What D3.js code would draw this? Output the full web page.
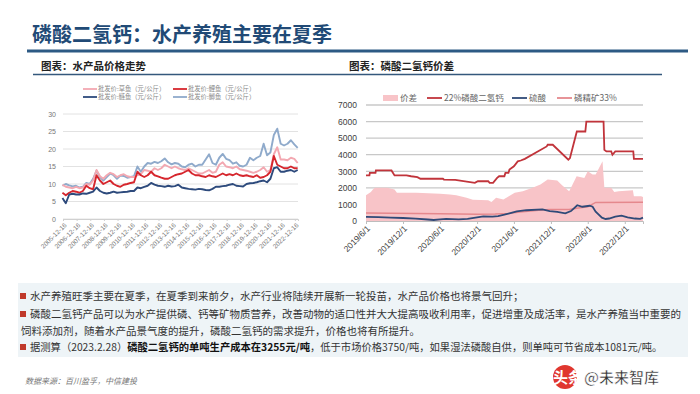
<!DOCTYPE html>
<html>
<head>
<meta charset="utf-8">
<script src="https://cdn.jsdelivr.net/npm/d3@7"></script>
<style>
  body { margin: 0; background: #fff; }
  svg { display: block; font-family: "Noto Sans CJK SC", "Liberation Sans", sans-serif; }
</style>
</head>
<body>
<svg id="chart" width="700" height="394"></svg>
<script>
// ---- left chart: fish wholesale prices (quarterly readings) ----
var fishDates = ["2005-12",
  "2006-03","2006-06","2006-09","2006-12","2007-03","2007-06","2007-09","2007-12",
  "2008-03","2008-06","2008-09","2008-12","2009-03","2009-06","2009-09","2009-12",
  "2010-03","2010-06","2010-09","2010-12","2011-03","2011-06","2011-09","2011-12",
  "2012-03","2012-06","2012-09","2012-12","2013-03","2013-06","2013-09","2013-12",
  "2014-03","2014-06","2014-09","2014-12","2015-03","2015-06","2015-09","2015-12",
  "2016-03","2016-06","2016-09","2016-12","2017-03","2017-06","2017-09","2017-12",
  "2018-03","2018-06","2018-09","2018-12","2019-03","2019-06","2019-09","2019-12",
  "2020-03","2020-06","2020-09","2020-12","2021-03","2021-06","2021-09","2021-12",
  "2022-03","2022-06","2022-09","2022-12","2023-03"];
var fishTicks = ["2005-12-16","2006-12-16","2007-12-16","2008-12-16","2009-12-16","2010-12-16",
  "2011-12-16","2012-12-16","2013-12-16","2014-12-16","2015-12-16","2016-12-16","2017-12-16",
  "2018-12-16","2019-12-16","2020-12-16","2021-12-16","2022-12-16"];
var crucian = [9.5,
  10.0,9.6,9.3,9.5, 9.0,9.2,10.3,10.0, 11.5,13.8,12.0,11.0, 12.0,13.0,12.5,11.5,
  12.4,12.3,11.8,12.0, 12.2,15.0,13.5,15.0, 16.0,15.8,16.3,16.0, 16.5,17.3,16.2,15.6,
  16.0,15.8,15.0,14.8, 15.5,15.8,15.0,15.5, 15.5,17.0,18.5,16.0, 15.5,17.5,18.6,17.2,
  16.8,15.8,16.2,15.2, 15.0,15.5,17.5,16.8, 17.5,18.0,21.5,18.2, 19.0,24.0,25.8,21.5,
  21.0,21.5,22.5,21.3, 20.3];
var grass = [9.8,
  9.2,9.0,8.8,9.2, 8.8,9.0,10.0,9.8, 11.0,14.0,12.2,11.5, 12.5,13.2,12.8,12.0,
  12.5,12.8,12.2,12.0, 12.0,12.5,12.8,14.0, 13.8,13.5,14.5,14.0, 14.5,15.5,15.0,14.5,
  15.0,14.5,14.2,14.0, 14.5,14.0,13.5,13.0, 13.0,13.5,14.0,13.2, 13.5,15.5,16.2,15.0,
  14.8,14.5,15.0,14.2, 14.0,13.8,13.5,13.2, 13.5,14.0,14.8,13.5, 14.0,18.5,20.5,17.0,
  17.0,16.8,17.5,17.2, 16.0];
var carp = [7.5,
  6.8,7.5,8.0,7.8, 7.5,8.0,9.5,8.8, 8.5,12.5,11.0,10.0, 10.5,11.0,10.0,9.5,
  9.2,9.8,10.0,10.3, 10.5,13.5,12.5,12.0, 12.5,13.5,12.5,12.2, 11.8,11.5,11.5,12.0,
  12.5,12.8,13.0,13.5, 14.0,13.0,12.5,12.5, 12.2,12.0,12.5,12.2, 12.0,12.5,13.0,12.5,
  12.8,12.5,13.0,12.5, 12.3,12.5,12.2,12.0, 12.5,11.8,12.0,12.5, 13.5,18.0,15.5,15.0,
  14.5,14.5,15.0,14.5, 14.5];
var silver = [6.0,
  4.5,7.0,7.2,7.0, 7.0,7.3,7.2,7.5, 7.8,9.0,8.0,7.5, 7.3,7.5,7.8,7.5,
  7.6,7.7,7.8,8.0, 8.0,9.0,8.8,9.2, 9.5,10.3,9.8,9.5, 9.4,9.2,9.5,9.3,
  9.4,9.8,9.0,8.8, 8.6,8.5,8.4,8.6, 8.5,8.3,8.2,8.6, 9.2,9.2,9.4,9.5,
  9.8,10.0,9.5,9.4, 9.3,10.0,10.2,10.3, 10.5,10.8,11.0,10.5, 11.5,14.5,14.8,13.5,
  13.5,13.8,14.0,13.5, 14.0];
var fishNames = ["批发价:草鱼（元/公斤）","批发价:鲤鱼（元/公斤）","批发价:鲢鱼（元/公斤）","批发价:鲫鱼（元/公斤）"];

// ---- right chart: MCP price spread ----
var spreadDates = ["2019-06-01","2019-06-25","2019-07-05","2019-07-15","2019-09-15","2019-10-20","2019-11-01",
  "2020-02-05","2020-06-01","2020-07-20","2020-08-20","2020-10-10","2020-11-10","2021-01-25","2021-02-10",
  "2021-03-05","2021-04-10","2021-05-01","2021-06-05","2021-07-15","2021-09-01","2021-10-10","2021-11-15",
  "2022-01-01","2022-01-25","2022-03-01","2022-03-10","2022-04-07","2022-05-15","2022-06-01","2022-06-25",
  "2022-07-10","2022-08-13","2022-08-22","2022-09-25","2022-10-10","2022-11-01","2023-01-10","2023-01-15",
  "2023-02-20","2023-03-01"];
var spreadValues = [1550,1750,1900,2000,2000,1900,1700,
  1700,1650,1600,1550,1400,1280,1250,1150,
  1400,1300,1450,1700,1800,2000,2200,2500,
  2450,2150,1800,2000,2700,2600,3000,2800,
  2800,3600,2000,2000,1750,1800,1850,1500,
  1500,1450];
var mcpDates = ["2019-06-01","2019-06-18","2019-06-20","2019-07-18","2019-07-20","2019-10-05","2019-10-20",
  "2019-12-18","2020-01-10","2020-02-10","2020-02-25","2020-06-15","2020-06-20","2020-08-15","2020-11-20",
  "2020-12-05","2021-01-25","2021-02-01","2021-02-18","2021-03-10","2021-03-20","2021-04-15","2021-04-20",
  "2021-05-05","2021-05-10","2021-06-01","2021-06-20","2021-07-05","2021-07-25","2021-11-10","2021-11-15",
  "2021-12-10","2022-02-25","2022-03-05","2022-04-08","2022-05-20","2022-05-25","2022-08-18","2022-08-22",
  "2022-09-01","2022-09-25","2022-10-01","2022-10-15","2023-01-12","2023-01-15","2023-03-01"];
var mcpValues = [2750,2750,2900,2900,3050,3050,2750,
  2750,2700,2650,2550,2550,2500,2480,2300,
  2400,2400,2300,2300,2600,2700,2700,2900,
  2900,3100,3300,3600,3650,3750,4500,4600,
  4600,3700,3800,5400,5400,6000,6000,4300,
  4200,4200,4000,4200,4200,3750,3750];
var acidDates = ["2019-06-01","2019-08-01","2019-10-01","2019-12-01","2020-02-01","2020-04-01","2020-05-01",
  "2020-06-01","2020-07-01","2020-09-01","2020-10-15","2020-12-01","2021-01-01","2021-02-15","2021-03-15",
  "2021-04-15","2021-05-10","2021-06-15","2021-08-01","2021-10-20","2021-11-25","2022-01-01","2022-02-10",
  "2022-03-10","2022-04-10","2022-05-05","2022-06-10","2022-06-25","2022-07-10","2022-08-10","2022-08-28",
  "2022-09-15","2022-10-15","2022-11-15","2022-12-15","2023-01-20","2023-02-15","2023-03-01"];
var acidValues = [250,230,200,180,140,90,60,
  100,130,100,130,220,280,270,300,
  380,460,580,650,700,600,550,460,
  600,950,860,920,860,560,200,120,
  150,260,320,220,150,130,200];
var rockDates = ["2019-06-01","2020-06-01","2020-12-01","2021-03-01","2021-05-10","2021-07-01","2021-10-01",
  "2021-11-25","2022-03-01","2022-04-15","2022-06-01","2022-07-10","2023-03-01"];
var rockValues = [480,430,400,420,460,550,650,700,700,780,860,1120,1130];
var spreadTicks = ["2019-06-01","2019-12-01","2020-06-01","2020-12-01","2021-06-01","2021-12-01","2022-06-01","2022-12-01"];
var spreadNames = ["价差","22%磷酸二氢钙","硫酸","磷精矿33%"];

var bullets = [
  "水产养殖旺季主要在夏季，在夏季到来前夕，水产行业将陆续开展新一轮投苗，水产品价格也将景气回升；",
  "磷酸二氢钙产品可以为水产提供磷、钙等矿物质营养，改善动物的适口性并大大提高吸收利用率，促进增重及成活率，是水产养殖当中重要的",
  "饲料添加剂，随着水产品景气度的提升，磷酸二氢钙的需求提升，价格也将有所提升。"
];

var svg = d3.select("#chart");
var parseM = d3.timeParse("%Y-%m");
var parseD = d3.timeParse("%Y-%m-%d");

// ---- header ----
svg.append("text").attr("x", 32).attr("y", 42)
  .attr("font-size", 20).attr("font-weight", 600).attr("fill", "#214a76")
  .text("磷酸二氢钙：水产养殖主要在夏季");
svg.append("line").attr("x1", 27).attr("x2", 688).attr("y1", 51).attr("y2", 51)
  .attr("stroke", "#2d5a84").attr("stroke-width", 3);

svg.append("text").attr("x", 41).attr("y", 70).attr("font-size", 10.5).attr("font-weight", 700)
  .attr("fill", "#222").text("图表：水产品价格走势");
svg.append("text").attr("x", 349).attr("y", 70).attr("font-size", 10.5).attr("font-weight", 700)
  .attr("fill", "#222").text("图表：磷酸二氢钙价差");
svg.append("line").attr("x1", 33).attr("x2", 662).attr("y1", 74.5).attr("y2", 74.5)
  .attr("stroke", "#34587c").attr("stroke-width", 1.6);

// ---- left chart ----
var xL = d3.scaleTime().domain([parseD("2005-12-16"), parseD("2023-03-10")]).range([63, 298]);
var yL = d3.scaleLinear().domain([0, 30]).range([219, 114]);
var fishColors = ["#f3a8b1", "#d6262d", "#2d4a7c", "#8faacb"];

var left = svg.append("g");
left.append("g").selectAll("line").data(d3.range(0, 31, 5)).enter().append("line")
  .attr("x1", 63).attr("x2", 298)
  .attr("y1", function(d) { return yL(d); }).attr("y2", function(d) { return yL(d); })
  .attr("stroke", "#e2e2e2").attr("stroke-width", 1);

var yAxisL = left.append("g").attr("transform", "translate(63,0)")
  .call(d3.axisLeft(yL).tickValues(d3.range(0, 31, 5)).tickSize(0).tickPadding(7));
yAxisL.select(".domain").remove();
yAxisL.selectAll("text").attr("font-size", 7).attr("fill", "#777")
  .attr("font-family", "Liberation Sans, sans-serif");

var xAxisL = left.append("g").attr("transform", "translate(0,219)")
  .call(d3.axisBottom(xL).tickValues(fishTicks.map(parseD))
    .tickFormat(d3.timeFormat("%Y-%m-%d")).tickSize(2));
xAxisL.select(".domain").attr("stroke", "#d0d0d0");
xAxisL.selectAll(".tick line").attr("stroke", "#d0d0d0");
xAxisL.selectAll("text").attr("font-size", 6.5).attr("fill", "#777")
  .attr("font-family", "Liberation Sans, sans-serif")
  .attr("x", 0).attr("y", 0).attr("dy", "0.35em")
  .attr("transform", "translate(2,5) rotate(-45)").style("text-anchor", "end");

var fishSeries = [grass, carp, silver, crucian];
var fishLine = d3.line()
  .x(function(d, i) { return xL(parseM(fishDates[i])); })
  .y(function(d) { return yL(d); });
[3, 0, 1, 2].forEach(function(k) {
  left.append("path").datum(fishSeries[k]).attr("d", fishLine)
    .attr("fill", "none").attr("stroke", fishColors[k]).attr("stroke-width", 1.9)
    .attr("stroke-linejoin", "round");
});

// left legend, two rows
fishNames.forEach(function(name, i) {
  var gx = (i % 2 === 0) ? 83 : 173;
  var gy = (i < 2) ? 89 : 97;
  var g = left.append("g").attr("transform", "translate(" + gx + "," + gy + ")");
  g.append("line").attr("x1", 0).attr("x2", 14).attr("stroke", fishColors[i]).attr("stroke-width", 1.8);
  g.append("text").attr("x", 15).attr("dy", "0.35em").attr("font-size", 6.3)
    .attr("fill", "#888").text(name);
});

// ---- right chart ----
var xR = d3.scaleTime().domain([parseD("2019-06-01"), parseD("2023-03-01")]).range([366, 643]);
var yR = d3.scaleLinear().domain([0, 7000]).range([221, 105]);
var right = svg.append("g");

right.append("g").selectAll("line").data(d3.range(0, 7001, 1000)).enter().append("line")
  .attr("x1", 366).attr("x2", 643)
  .attr("y1", function(d) { return yR(d); }).attr("y2", function(d) { return yR(d); })
  .attr("stroke", "#c8c8c8").attr("stroke-width", 1.3);

var yAxisR = right.append("g").attr("transform", "translate(366,0)")
  .call(d3.axisLeft(yR).tickValues(d3.range(0, 7001, 1000)).tickFormat(d3.format("d"))
    .tickSize(0).tickPadding(9));
yAxisR.select(".domain").remove();
yAxisR.selectAll("text").attr("font-size", 8.5).attr("fill", "#404040")
  .attr("font-family", "Liberation Sans, sans-serif");

var xAxisR = right.append("g").attr("transform", "translate(0,221)")
  .call(d3.axisBottom(xR).tickValues(spreadTicks.map(parseD))
    .tickFormat(d3.timeFormat("%Y/%-m/%-d")).tickSize(3));
xAxisR.select(".domain").attr("stroke", "#bdbdbd");
xAxisR.selectAll(".tick line").attr("stroke", "#bdbdbd");
xAxisR.selectAll("text").attr("font-size", 8.5).attr("fill", "#404040")
  .attr("font-family", "Liberation Sans, sans-serif")
  .attr("x", 0).attr("y", 0).attr("dy", "0.35em")
  .attr("transform", "translate(2,6) rotate(-45)").style("text-anchor", "end");

var area = d3.area()
  .x(function(d, i) { return xR(parseD(spreadDates[i])); })
  .y0(yR(0)).y1(function(d) { return yR(d); });
right.append("path").datum(spreadValues).attr("d", area).attr("fill", "#f8c4c8");

function seriesLine(dates) {
  return d3.line()
    .x(function(d, i) { return xR(parseD(dates[i])); })
    .y(function(d) { return yR(d); });
}
var spreadColors = ["#f8c4c8", "#c1343b", "#2f4a78", "#e5888d"];
right.append("path").datum(rockValues).attr("d", seriesLine(rockDates))
  .attr("fill", "none").attr("stroke", spreadColors[3]).attr("stroke-width", 1.5);
right.append("path").datum(acidValues).attr("d", seriesLine(acidDates))
  .attr("fill", "none").attr("stroke", spreadColors[2]).attr("stroke-width", 1.8);
right.append("path").datum(mcpValues).attr("d", seriesLine(mcpDates))
  .attr("fill", "none").attr("stroke", spreadColors[1]).attr("stroke-width", 1.8);

// right legend
var legX = [383, 427, 512, 557];
spreadNames.forEach(function(name, i) {
  var g = right.append("g").attr("transform", "translate(" + legX[i] + ",98)");
  if (i === 0) {
    g.append("rect").attr("x", 0).attr("y", -3).attr("width", 15).attr("height", 6).attr("fill", spreadColors[0]);
  } else {
    g.append("line").attr("x1", 0).attr("x2", 15).attr("stroke", spreadColors[i]).attr("stroke-width", 1.8);
  }
  g.append("text").attr("x", 17).attr("dy", "0.35em").attr("font-size", 8.5)
    .attr("fill", "#666").text(name);
});

// ---- text box ----
svg.append("rect").attr("x", 18).attr("y", 283).attr("width", 670).attr("height", 74).attr("fill", "#eef4f7");
var rows = [
  { y: 300, bullet: true, text: bullets[0] },
  { y: 318, bullet: true, text: bullets[1] },
  { y: 334.5, bullet: false, text: bullets[2] }
];
rows.forEach(function(r) {
  if (r.bullet) {
    svg.append("rect").attr("x", 20).attr("y", r.y - 7).attr("width", 6).attr("height", 6).attr("fill", "#c0392b");
  }
  svg.append("text").attr("x", r.bullet ? 30 : 21).attr("y", r.y)
    .attr("font-size", 10.5).attr("fill", "#333").text(r.text);
});
svg.append("rect").attr("x", 20).attr("y", 344).attr("width", 6).attr("height", 6).attr("fill", "#c0392b");
var last = svg.append("text").attr("x", 30).attr("y", 351).attr("font-size", 10.3).attr("fill", "#333");
last.append("tspan").text("据测算（2023.2.28）");
last.append("tspan").attr("font-weight", 700).attr("fill", "#111").text("磷酸二氢钙的单吨生产成本在3255元/吨");
last.append("tspan").text("，低于市场价格3750/吨，如果湿法磷酸自供，则单吨可节省成本1081元/吨。");

svg.append("text").attr("x", 25).attr("y", 384).attr("font-size", 8).attr("font-style", "italic")
  .attr("fill", "#777").text("数据来源：百川盈孚，中信建投");

// ---- watermark ----
svg.append("circle").attr("cx", 565).attr("cy", 377).attr("r", 12).attr("fill", "#e0372f");
svg.append("text").attr("x", 553).attr("y", 383).attr("font-size", 15).attr("font-weight", 700)
  .attr("fill", "#fff").text("头条");
svg.append("text").attr("x", 584).attr("y", 383).attr("font-size", 15).attr("font-weight", 700)
  .attr("fill", "#333").attr("stroke", "#fff").attr("stroke-width", 0.6).text("@未来智库");
</script>
</body>
</html>
